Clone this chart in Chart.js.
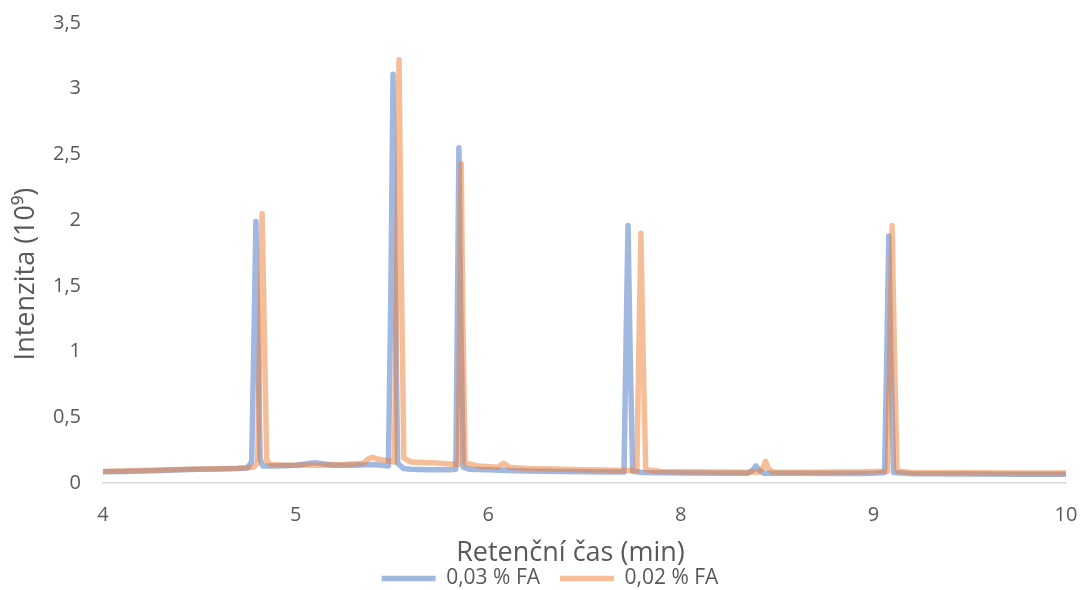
<!DOCTYPE html>
<html>
<head>
<meta charset="utf-8">
<script src="https://cdn.jsdelivr.net/npm/chart.js@4.4.0/dist/chart.umd.min.js"></script>
<style>
  html, body { margin: 0; padding: 0; background: #fff; }
  #wrap { width: 1081px; height: 590px; }
</style>
</head>
<body>
<div id="wrap"><canvas id="chromChart"></canvas></div>
<script>
// x axis ticks (the axis skips 7, one label per axis unit 4..9)
const xTickLabels = ['4', '5', '6', '8', '9', '10'];

// 0,03 % FA
const blueTime = [4.00, 4.10, 4.20, 4.30, 4.40, 4.50, 4.60, 4.70, 4.75, 4.772, 4.785, 4.794, 4.803, 4.816, 4.83, 4.90, 5.00, 5.05, 5.10, 5.15, 5.20, 5.30, 5.40, 5.45, 5.482, 5.495, 5.506, 5.517, 5.53, 5.56, 5.60, 5.70, 5.80, 5.832, 5.840, 5.848, 5.857, 5.87, 5.90, 6.00, 6.10, 6.20, 6.30, 6.40, 6.50, 6.60, 6.705, 6.715, 6.726, 6.737, 6.75, 6.80, 6.90, 7.00, 7.20, 7.35, 7.375, 7.39, 7.405, 7.43, 7.60, 7.80, 7.95, 8.00, 8.058, 8.070, 8.080, 8.090, 8.105, 8.20, 8.50, 8.75, 9.00];
const blueValue = [0.085, 0.088, 0.092, 0.096, 0.100, 0.104, 0.107, 0.110, 0.115, 0.16, 1.20, 1.99, 1.20, 0.18, 0.13, 0.13, 0.135, 0.145, 0.155, 0.145, 0.135, 0.135, 0.14, 0.135, 0.13, 1.50, 3.11, 1.50, 0.15, 0.11, 0.105, 0.10, 0.10, 0.105, 1.30, 2.55, 1.30, 0.12, 0.105, 0.10, 0.095, 0.092, 0.09, 0.088, 0.085, 0.083, 0.083, 1.00, 1.96, 1.00, 0.09, 0.08, 0.078, 0.076, 0.075, 0.075, 0.10, 0.13, 0.10, 0.075, 0.074, 0.073, 0.073, 0.075, 0.08, 1.00, 1.88, 1.00, 0.08, 0.07, 0.068, 0.067, 0.066];

// 0,02 % FA
const orangeTime = [4.00, 4.10, 4.20, 4.30, 4.40, 4.50, 4.60, 4.70, 4.78, 4.803, 4.815, 4.826, 4.837, 4.85, 4.87, 4.95, 5.05, 5.15, 5.25, 5.35, 5.38, 5.40, 5.43, 5.48, 5.513, 5.525, 5.537, 5.549, 5.562, 5.60, 5.70, 5.80, 5.845, 5.853, 5.860, 5.868, 5.88, 5.95, 6.05, 6.08, 6.11, 6.20, 6.30, 6.40, 6.50, 6.60, 6.70, 6.772, 6.782, 6.793, 6.804, 6.818, 6.90, 7.00, 7.20, 7.40, 7.425, 7.44, 7.455, 7.48, 7.70, 7.95, 8.00, 8.073, 8.085, 8.097, 8.109, 8.123, 8.20, 8.50, 8.75, 9.00];
const orangeValue = [0.088, 0.092, 0.095, 0.099, 0.103, 0.106, 0.109, 0.113, 0.12, 0.15, 1.20, 2.05, 1.20, 0.17, 0.14, 0.135, 0.135, 0.135, 0.14, 0.15, 0.185, 0.195, 0.18, 0.17, 0.16, 1.60, 3.22, 1.60, 0.19, 0.16, 0.155, 0.145, 0.14, 1.30, 2.43, 1.30, 0.15, 0.13, 0.12, 0.15, 0.12, 0.11, 0.108, 0.105, 0.10, 0.098, 0.095, 0.095, 1.00, 1.90, 1.00, 0.10, 0.088, 0.085, 0.083, 0.082, 0.11, 0.165, 0.11, 0.083, 0.082, 0.085, 0.088, 0.09, 1.00, 1.96, 1.00, 0.09, 0.08, 0.078, 0.077, 0.076];

const toPoints = (xs, ys) => xs.map((x, i) => ({ x: x, y: ys[i] }));

const textColor = '#595959';
const fontFamily = "'Open Sans', 'Noto Sans', sans-serif";

const chart = new Chart(document.getElementById('chromChart').getContext('2d'), {
  type: 'line',
  data: {
    datasets: [{
      label: '0,03 % FA',
      data: toPoints(blueTime, blueValue),
      borderColor: 'rgba(68, 114, 196, 0.5)',
      backgroundColor: 'rgba(68, 114, 196, 0.5)',
      borderWidth: 5.5,
      order: 1
    }, {
      label: '0,02 % FA',
      data: toPoints(orangeTime, orangeValue),
      borderColor: 'rgba(237, 125, 49, 0.5)',
      backgroundColor: 'rgba(237, 125, 49, 0.5)',
      borderWidth: 5.5,
      order: 0
    }]
  },
  options: {
    responsive: true,
    maintainAspectRatio: false,
    animation: false,
    parsing: false,
    elements: {
      point: { radius: 0, hoverRadius: 0 },
      line: { tension: 0, borderJoinStyle: 'round', borderCapStyle: 'round' }
    },
    // left padding pushes the centred legend to the right; y axis width makes up for it
    layout: { padding: { top: 23, right: 15, left: 34, bottom: -9 } },
    plugins: {
      tooltip: { enabled: false },
      legend: {
        position: 'bottom',
        labels: {
          usePointStyle: true,
          pointStyle: 'line',
          pointStyleWidth: 54,
          padding: 20,
          color: textColor,
          font: { family: fontFamily, size: 21 },
          sort: (a, b) => a.datasetIndex - b.datasetIndex
        }
      }
    },
    scales: {
      x: {
        type: 'linear',
        min: 4,
        max: 9,
        afterFit: (scale) => { scale.height = 65; },
        // invisible tick marks keep the label gap without the extra layout padding
        grid: { display: false, drawTicks: true, tickLength: 20, tickColor: 'rgba(0,0,0,0)' },
        border: { display: true, color: '#d9d9d9', width: 1.5 },
        ticks: {
          stepSize: 1,
          autoSkip: false,
          maxRotation: 0,
          padding: 0,
          color: textColor,
          font: { family: fontFamily, size: 20 },
          callback: (value) => xTickLabels[value - 4]
        },
        title: {
          display: true,
          text: 'Retenční čas (min)\u00a0\u00a0\u00a0\u00a0',
          color: textColor,
          font: { family: fontFamily, size: 27, lineHeight: 1 },
          padding: { top: 0, bottom: -19 }
        }
      },
      y: {
        min: 0,
        max: 3.5,
        afterFit: (scale) => { scale.width = 69; },
        grid: { display: false, drawTicks: true, tickLength: 22, tickColor: 'rgba(0,0,0,0)' },
        border: { display: false },
        ticks: {
          stepSize: 0.5,
          padding: 0,
          color: textColor,
          font: { family: fontFamily, size: 20 },
          callback: (value) => value.toString().replace('.', ',')
        },
        title: {
          display: true,
          text: 'Intenzita (10⁹)\u00a0\u00a0\u00a0\u00a0\u00a0\u00a0',
          color: textColor,
          font: { family: fontFamily, size: 27, lineHeight: 1.2 },
          padding: { top: -24, bottom: 0 }
        }
      }
    }
  }
});
</script>
</body>
</html>
